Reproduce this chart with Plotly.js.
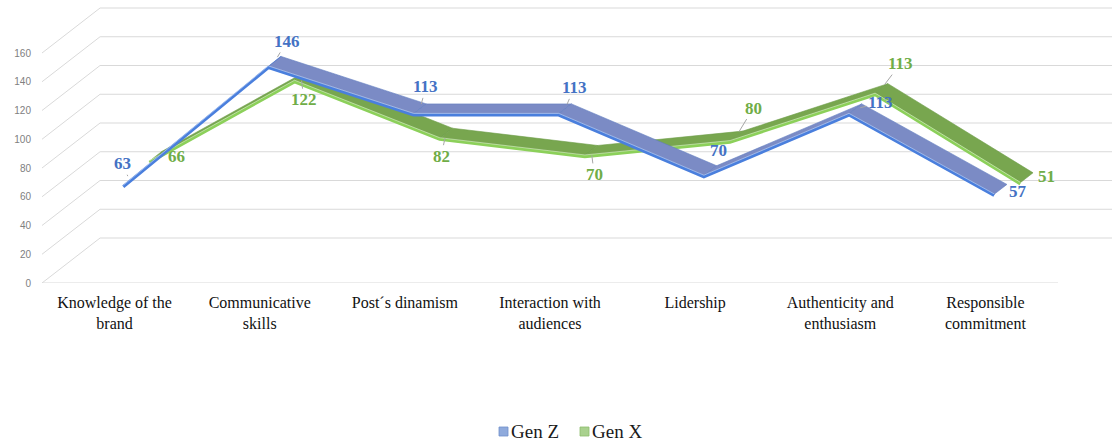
<!DOCTYPE html>
<html>
<head>
<meta charset="utf-8">
<script src="https://cdn.plot.ly/plotly-3.0.1.min.js"></script>
<style>html,body{margin:0;padding:0;background:#fff}</style>
</head>
<body>
<div id="chart" style="width:1112px;height:441px"></div>
<script>
// Categories and values
const categories = ['Knowledge of the<br>brand', 'Communicative<br>skills', 'Post´s dinamism',
  'Interaction with<br>audiences', 'Lidership', 'Authenticity and<br>enthusiasm', 'Responsible<br>commitment'];
const genZ = [63, 146, 113, 113, 70, 113, 57];
const genX = [66, 122, 82, 70, 80, 113, 51];
const yTicks = [0, 20, 40, 60, 80, 100, 120, 140, 160];
const seriesNames = ['Gen Z', 'Gen X'];

const SERIF = 'Liberation Serif';
const SANS = 'Liberation Sans';

// Oblique projection: one full unit of depth moves a point this far in axis units
const DEPTH_X = 0.4;    // categories
const DEPTH_Y = 31.3;   // values
const X_MIN = -0.5, X_MAX = 6.872, Y_MAX = 196.87;
const M_L = 42, PLOT_W = 1070, PLOT_H = 283;

// Each series is a ribbon spanning a slice of depth
const seriesStyle = [
  {name: seriesNames[0], data: genZ, d0: 0.15, d1: 0.37,
   top: '#7b8bc5', under: '#c9d6f1', edge: '#4a7fdd', rim: '#5f7cc0', label: '#4472c4'},
  {name: seriesNames[1], data: genX, d0: 0.60, d1: 0.82,
   top: '#78a64f', under: '#c6e0b2', edge: '#8cd05a', rim: '#6c9c46', label: '#70ad47'}
];

// Label offsets in pixels from the ribbon centre at each category, and whether a leader line is drawn
const labelOffsets = [
  [[-7, -17], [12, -20], [6, -22], [9, -21], [8, -20], [25, -6], [17, 2]],
  [[21, 0], [3, 24], [-5, 23], [3, 24], [17, -28], [19, -25], [20, -1]]
];
const labelLeaders = [
  [1, 1, 1, 1, 0, 1, 0],
  [0, 1, 1, 1, 1, 1, 0]
];

function ribbonTraces(s) {
  const out = [];
  const n = s.data.length;
  const front = s.data.map((v, i) => [i + DEPTH_X * s.d0, v + DEPTH_Y * s.d0]);
  const back = s.data.map((v, i) => [i + DEPTH_X * s.d1, v + DEPTH_Y * s.d1]);
  const dd = s.d1 - s.d0;
  for (let i = 0; i < n - 1; i++) {
    // sign of the cross product tells whether the upper or lower face is toward the viewer
    const rise = s.data[i + 1] - s.data[i];
    const cross = DEPTH_Y * dd - rise * DEPTH_X * dd;
    const a = front[i], b = front[i + 1], c = back[i + 1], e = back[i];
    out.push({
      type: 'scatter', mode: 'lines', fill: 'toself',
      x: [a[0], b[0], c[0], e[0], a[0]],
      y: [a[1], b[1], c[1], e[1], a[1]],
      fillcolor: cross > 0 ? s.top : s.under,
      line: {color: cross > 0 ? s.rim : s.edge, width: cross > 0 ? 0.6 : 1.4},
      hoverinfo: 'skip', showlegend: false
    });
  }
  // bright front rim of the ribbon
  out.push({
    type: 'scatter', mode: 'lines',
    x: front.map(p => p[0]), y: front.map(p => p[1] - 0.8),
    line: {color: s.edge, width: 3.2},
    hoverinfo: 'skip', showlegend: false, name: s.name
  });
  out.push({
    type: 'scatter', mode: 'lines',
    x: front.map(p => p[0]), y: front.map(p => p[1] + 0.3),
    line: {color: 'rgba(255,255,255,0.55)', width: 0.8},
    hoverinfo: 'skip', showlegend: false
  });
  return out;
}

// back series first so the front one sits on top
const traces = [...ribbonTraces(seriesStyle[1]), ...ribbonTraces(seriesStyle[0])];

// Wall and floor gridlines
const shapes = [];
const gridColor = '#d9d9d9';
yTicks.forEach(v => {
  shapes.push({
    type: 'path', xref: 'x', yref: 'y', layer: 'below',
    path: `M ${X_MIN} ${v} L ${X_MIN + DEPTH_X} ${v + DEPTH_Y} L ${X_MAX + 1} ${v + DEPTH_Y}`,
    line: {color: gridColor, width: 1}
  });
});
shapes.push({
  type: 'line', xref: 'x', yref: 'y', layer: 'below',
  x0: X_MIN, x1: categories.length - 0.5, y0: 0, y1: 0,
  line: {color: gridColor, width: 1}
});

// Data labels
const annotations = [];
seriesStyle.forEach((s, k) => {
  const dm = (s.d0 + s.d1) / 2;
  s.data.forEach((v, i) => {
    const off = labelOffsets[k][i];
    annotations.push({
      x: i + DEPTH_X * dm, y: v + DEPTH_Y * dm, xref: 'x', yref: 'y',
      text: '<b>' + v + '</b>', showarrow: true, ax: off[0], ay: off[1],
      arrowhead: 0, arrowwidth: 1, standoff: 5,
      arrowcolor: labelLeaders[k][i] ? '#a6a6a6' : 'rgba(0,0,0,0)',
      font: {family: SERIF, size: 17, color: s.label}
    });
  });
});

// Legend drawn beneath the plot
const px2x = px => (px - M_L) / PLOT_W;
const py2y = py => (PLOT_H - py) / PLOT_H;
const legendItems = [
  {name: seriesNames[0], fill: '#8faadc', border: '#6f8fca', sq: 499},
  {name: seriesNames[1], fill: '#a9d18e', border: '#8dbd6c', sq: 580}
];
legendItems.forEach(it => {
  shapes.push({
    type: 'rect', xref: 'paper', yref: 'paper',
    x0: px2x(it.sq), x1: px2x(it.sq + 9), y0: py2y(436), y1: py2y(427),
    fillcolor: it.fill, line: {color: it.border, width: 0.8}
  });
  annotations.push({
    xref: 'paper', yref: 'paper', x: px2x(it.sq + 10), y: py2y(431.5),
    xanchor: 'left', yanchor: 'middle', showarrow: false, text: it.name,
    font: {family: SERIF, size: 19, color: '#1a1a1a'}
  });
});

const layout = {
  width: 1112, height: 441,
  margin: {l: M_L, r: 0, t: 0, b: 441 - PLOT_H},
  paper_bgcolor: '#ffffff', plot_bgcolor: '#ffffff',
  showlegend: false,
  font: {family: SERIF},
  xaxis: {
    range: [X_MIN, X_MAX], tickmode: 'array',
    tickvals: categories.map((c, i) => i), ticktext: categories,
    showgrid: false, zeroline: false, showline: false, ticks: '',
    ticklabelstandoff: 8, fixedrange: true,
    tickfont: {family: SERIF, size: 16, color: '#111111'}
  },
  yaxis: {
    range: [0, Y_MAX], tickmode: 'array', tickvals: yTicks,
    showgrid: false, zeroline: false, showline: false, ticks: '',
    ticklabelstandoff: 10, fixedrange: true,
    tickfont: {family: SANS, size: 10, color: '#808080'}
  },
  shapes: shapes,
  annotations: annotations
};

Plotly.newPlot('chart', traces, layout, {displayModeBar: false, staticPlot: true});
</script>
</body>
</html>
